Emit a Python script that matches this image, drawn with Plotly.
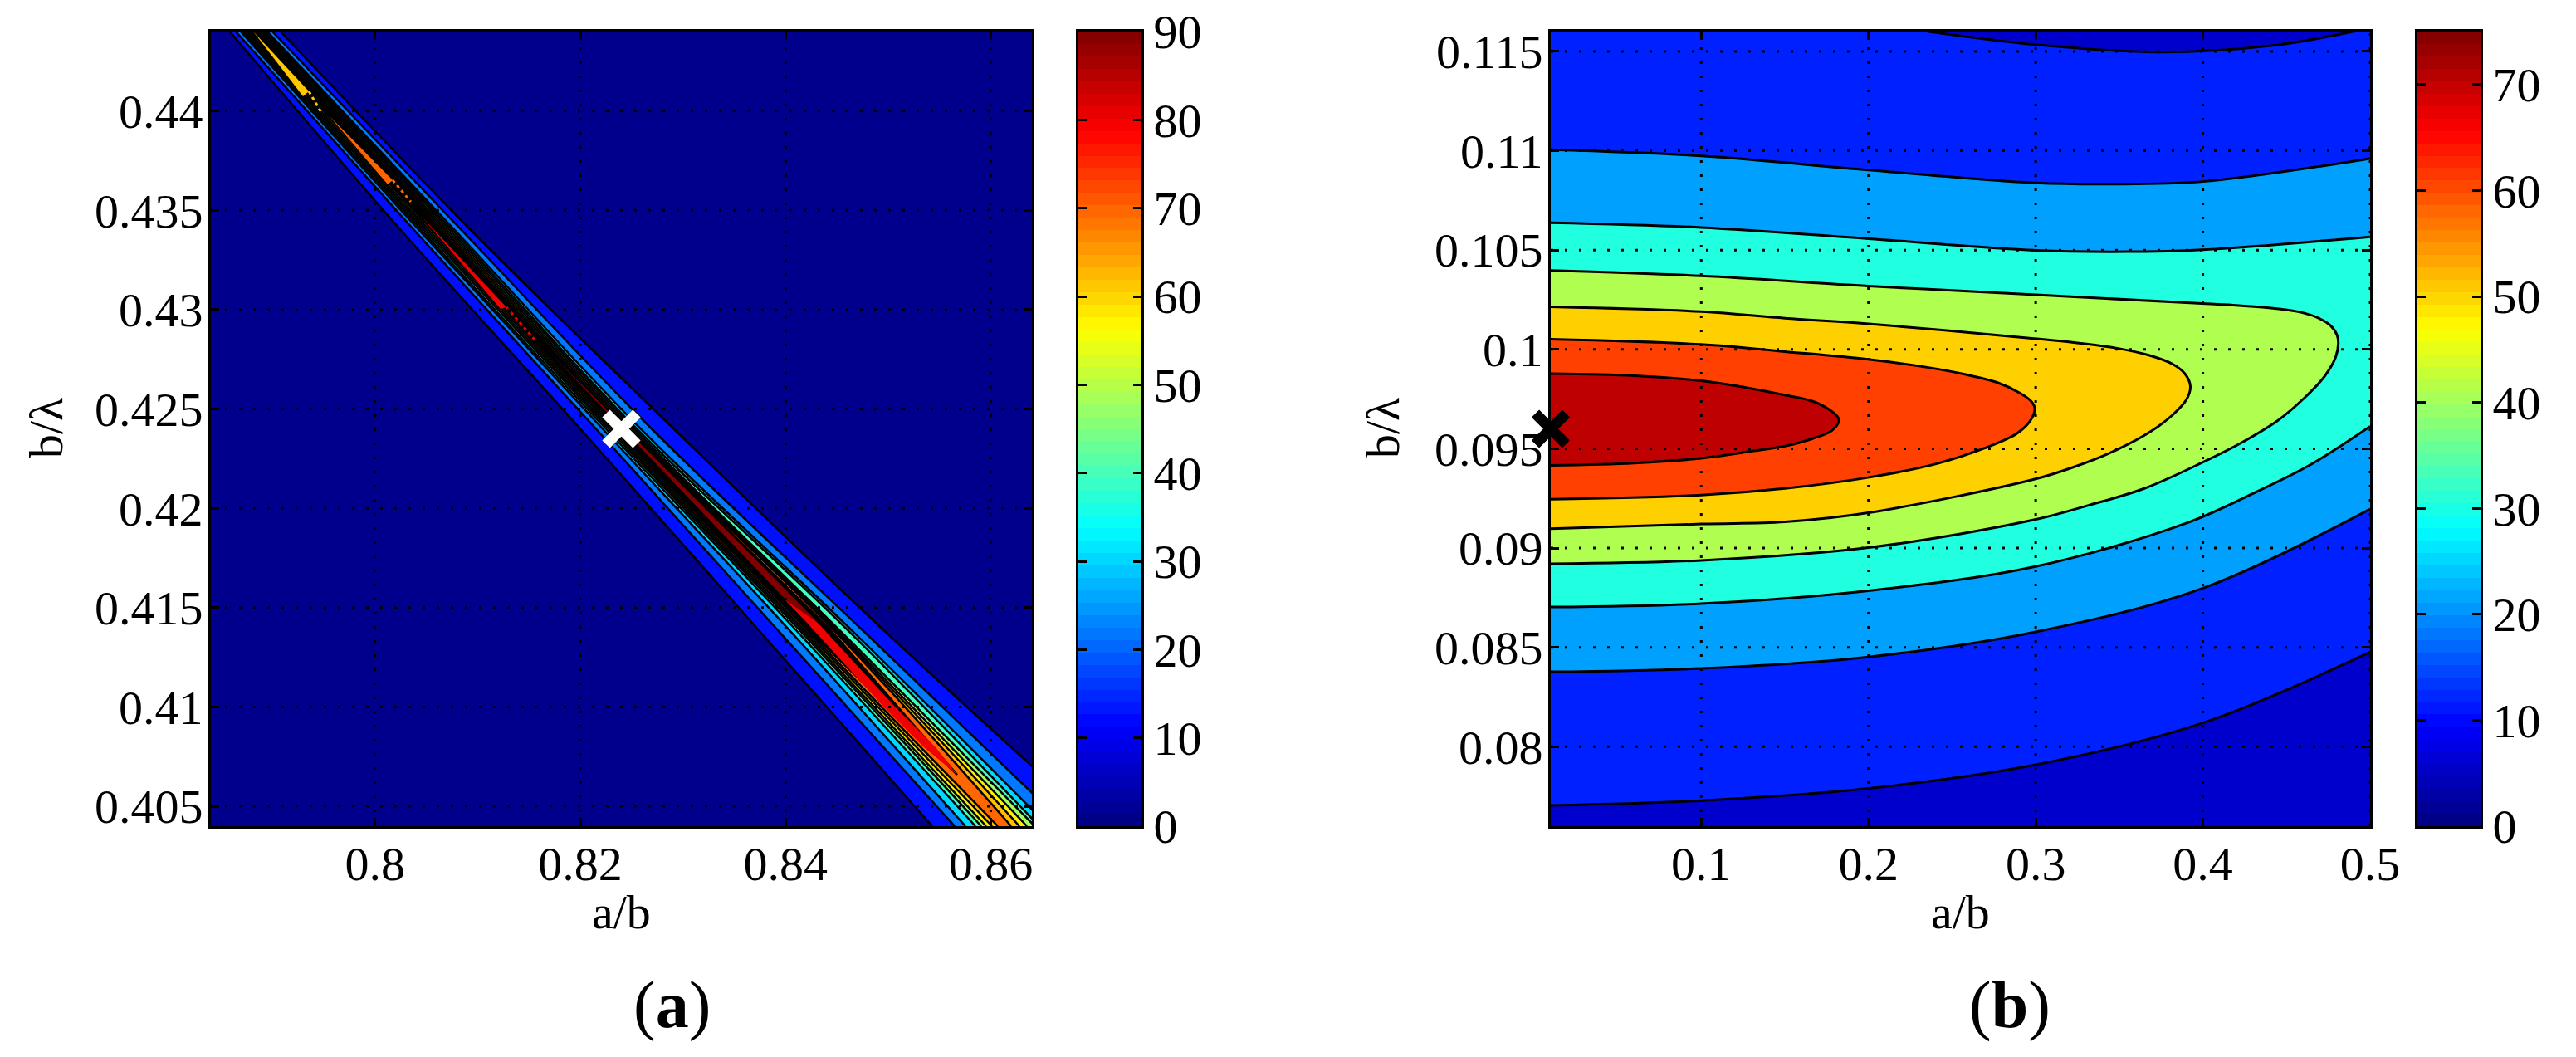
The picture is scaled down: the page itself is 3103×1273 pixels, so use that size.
import numpy as np
import plotly.graph_objects as go

FONT = "Liberation Serif"
W, H = 3103, 1273

# ---- panel (a), contour edges: x at each b/lambda row
a_rows = [0.444, 0.434, 0.424, 0.414, 0.404]
a_left = [
    [0.78584, 0.80252, 0.82000, 0.83715, 0.85429],
    [0.78643, 0.80382, 0.82153, 0.83901, 0.85648],
    [0.78691, 0.80430, 0.82218, 0.84014, 0.85753],
    [0.78711, 0.80455, 0.82250, 0.84078, 0.85850],
    [0.78732, 0.80479, 0.82275, 0.84111, 0.85907],
    [0.78752, 0.80503, 0.82299, 0.84135, 0.85955],
    [0.78772, 0.80527, 0.82323, 0.84159, 0.86012],
    [0.78792, 0.80552, 0.82347, 0.84184, 0.86068],
]
a_right = [
    [0.79079, 0.80934, 0.82911, 0.84928, 0.87047],
    [0.78999, 0.80843, 0.82695, 0.84722, 0.86740],
    [0.78950, 0.80778, 0.82588, 0.84616, 0.86562],
    [0.78930, 0.80754, 0.82550, 0.84580, 0.86473],
    [0.78910, 0.80730, 0.82525, 0.84499, 0.86429],
    [0.78889, 0.80705, 0.82501, 0.84475, 0.86352],
    [0.78869, 0.80681, 0.82477, 0.84459, 0.86279],
    [0.78853, 0.80657, 0.82453, 0.84443, 0.86198],
]
a_colors = ["#0010FF", "#0078FF", "#00D8FF", "#40FFC0", "#A0FF60", "#FFF000", "#FFC000", "#FF6800"]

# closed ridge, everything inside is solid contour lines
a_core_x = [0.78804, 0.80568, 0.82372, 0.84200, 0.85672, 0.84418, 0.82428, 0.80633, 0.78837]
a_core_y = [0.444, 0.434, 0.424, 0.414, 0.40659, 0.414, 0.424, 0.434, 0.444]

# colour slivers along the ridge
yellow_x = [0.78813, 0.79355, 0.79298]
yellow_y = [0.444, 0.44099, 0.44074]
orange_x = [0.79557, 0.80172, 0.80123]
orange_y = [0.43974, 0.43652, 0.43631]
red_x = [0.80447, 0.81280, 0.81223]
red_y = [0.43472, 0.43012, 0.43004]
darkred_x = [0.81708, 0.84232, 0.84297]
darkred_y = [0.42782, 0.41415, 0.41436]
red2_x = [0.83990, 0.84208, 0.84944, 0.85348, 0.85672, 0.85462, 0.85057, 0.84313]
red2_y = [0.41541, 0.41424, 0.41006, 0.40797, 0.40659, 0.40797, 0.41006, 0.41424]

# broken bits after each sliver
yellow_dash_x = [0.79355, 0.79480]
yellow_dash_y = [0.44099, 0.43990]
orange_dash_x = [0.80172, 0.80349]
orange_dash_y = [0.43652, 0.43543]
red_dash_x = [0.81280, 0.81563]
red_dash_y = [0.43012, 0.42845]

a_best = (0.824, 0.424)
a_xticks = [0.80, 0.82, 0.84, 0.86]
a_xlabels = ["0.8", "0.82", "0.84", "0.86"]
a_yticks = [0.405, 0.41, 0.415, 0.42, 0.425, 0.43, 0.435, 0.44]
a_ylabels = ["0.405", "0.41", "0.415", "0.42", "0.425", "0.43", "0.435", "0.44"]
a_cticks = [0, 10, 20, 30, 40, 50, 60, 70, 80, 90]

# ---- panel (b), contour lines
b_low1_x = [0.01, 0.1, 0.2, 0.3, 0.4, 0.5]
b_low1_y = [0.07705, 0.07729, 0.0779, 0.07909, 0.0812, 0.08476]
b_top1_x = [0.236, 0.3, 0.373, 0.442, 0.491]
b_top1_y = [0.116, 0.11534, 0.11497, 0.1153, 0.11602]

b_low2_x = [0.01, 0.1, 0.2, 0.3, 0.4, 0.5]
b_low2_y = [0.08377, 0.08394, 0.08452, 0.08578, 0.08798, 0.09196]
b_up2_x = [0.01, 0.1, 0.2, 0.3, 0.344, 0.4, 0.5]
b_up2_y = [0.11005, 0.10974, 0.10903, 0.10838, 0.10832, 0.10845, 0.10961]

b_low3_x = [0.01, 0.1, 0.2, 0.3, 0.39, 0.431, 0.464, 0.5]
b_low3_y = [0.08703, 0.0872, 0.08785, 0.08907, 0.09125, 0.09279, 0.09418, 0.09613]
b_up3_x = [0.01, 0.1, 0.2, 0.3, 0.354, 0.4, 0.5]
b_up3_y = [0.10638, 0.10614, 0.10557, 0.10499, 0.10492, 0.10502, 0.10567]

b_c4_x = [0.01, 0.1, 0.2, 0.299, 0.332, 0.365, 0.4, 0.423, 0.4446, 0.4612, 0.4727, 0.4794, 0.481, 0.4802, 0.4761,
          0.4678, 0.4562, 0.4396, 0.4181, 0.3949, 0.3, 0.2, 0.1, 0.01]
b_c4_y = [0.08921, 0.08938, 0.09002, 0.09142, 0.09216, 0.093, 0.09432, 0.0953, 0.09641, 0.0976, 0.09864, 0.09961,
          0.10031, 0.10073, 0.10122, 0.10163, 0.10191, 0.10209, 0.10223, 0.10233, 0.10275, 0.10319, 0.1037, 0.10397]
b_c5_x = [0.01, 0.1, 0.15, 0.2, 0.299, 0.3238, 0.3486, 0.3685, 0.3817, 0.39, 0.3925, 0.3892, 0.3817, 0.3685, 0.3486,
          0.3238, 0.299, 0.2, 0.15, 0.1, 0.01]
b_c5_y = [0.09097, 0.09121, 0.09132, 0.09178, 0.09346, 0.09411, 0.09495, 0.09585, 0.09669, 0.09745, 0.09815, 0.09878,
          0.09927, 0.09969, 0.10006, 0.10034, 0.10055, 0.10129, 0.10157, 0.1019, 0.10214]
b_c6_x = [0.01, 0.1, 0.15, 0.1997, 0.241, 0.2692, 0.289, 0.2973, 0.2995, 0.2973, 0.2907, 0.2775, 0.2576, 0.2328,
          0.1997, 0.15, 0.1, 0.01]
b_c6_y = [0.09246, 0.09267, 0.093, 0.09355, 0.09425, 0.09502, 0.09578, 0.09648, 0.09704, 0.09739, 0.0978, 0.09832,
          0.09875, 0.09913, 0.0995, 0.09989, 0.10025, 0.10051]
b_c7_x = [0.01, 0.06, 0.1, 0.13, 0.15, 0.1666, 0.1782, 0.1823, 0.1765, 0.1666, 0.15, 0.13, 0.1, 0.06, 0.01]
b_c7_y = [0.09416, 0.09428, 0.09452, 0.09487, 0.09513, 0.09551, 0.09592, 0.09648, 0.09697, 0.09739, 0.0977, 0.09803,
          0.09842, 0.09868, 0.09878]

b_best = (0.01, 0.096)
b_xticks = [0.1, 0.2, 0.3, 0.4, 0.5]
b_yticks = [0.08, 0.085, 0.09, 0.095, 0.1, 0.105, 0.11, 0.115]
b_ylabels = ["0.08", "0.085", "0.09", "0.095", "0.1", "0.105", "0.11", "0.115"]
b_cticks = [0, 10, 20, 30, 40, 50, 60, 70]


def jet_colors(n=64):
    t = (np.arange(n) + 0.5) / n
    r = np.clip(1.5 - np.abs(4 * t - 3), 0, 1)
    g = np.clip(1.5 - np.abs(4 * t - 2), 0, 1)
    b = np.clip(1.5 - np.abs(4 * t - 1), 0, 1)
    return ["rgb(%d,%d,%d)" % (255 * r[i], 255 * g[i], 255 * b[i]) for i in range(n)]


def edge(fig, x, y, ax, color=None, fill=None, lw=3):
    line = dict(color="black", width=lw, shape="spline", smoothing=1.0)
    fig.add_trace(go.Scatter(x=x, y=y, mode="lines", line=line, fill=fill, fillcolor=color,
                             xaxis="x" + ax, yaxis="y" + ax, hoverinfo="skip", showlegend=False))


def sliver(fig, x, y, color):
    fig.add_trace(go.Scatter(x=x, y=y, mode="lines", line=dict(width=0, color=color), fill="toself",
                             fillcolor=color, xaxis="x", yaxis="y", hoverinfo="skip", showlegend=False))


def broken(fig, x, y, color):
    fig.add_trace(go.Scatter(x=x, y=y, mode="lines", line=dict(width=3, color=color, dash="4px,4px"),
                             xaxis="x", yaxis="y", hoverinfo="skip", showlegend=False))


def best_mark(fig, pos, ax, color):
    fig.add_trace(go.Scatter(x=[pos[0]], y=[pos[1]], mode="markers", cliponaxis=False,
                             marker=dict(symbol="x-thin", size=37, line=dict(width=13, color=color)),
                             xaxis="x" + ax, yaxis="y" + ax, hoverinfo="skip", showlegend=False))


def colorbar(fig, top, ax):
    cols = jet_colors()
    n = len(cols)
    fig.add_trace(go.Heatmap(x=[0], y=[top * (i + 0.5) / n for i in range(n)], z=[[i] for i in range(n)],
                             zmin=0, zmax=n - 1, showscale=False,
                             colorscale=[[i / (n - 1), cols[i]] for i in range(n)],
                             xaxis="x" + ax, yaxis="y" + ax, hoverinfo="skip"))


fig = go.Figure()

# panel (a)
for lft, rgt, col in zip(a_left, a_right, a_colors):
    edge(fig, lft, a_rows, "", None, None, 2.5)
    edge(fig, rgt, a_rows, "", col, "tonexty", 2.5)
fig.add_trace(go.Scatter(x=a_core_x, y=a_core_y, mode="lines", line=dict(color="black", width=2.5), fill="toself",
                         fillcolor="black", hoverinfo="skip", showlegend=False))
sliver(fig, yellow_x, yellow_y, "#FFC800")
sliver(fig, orange_x, orange_y, "#FF6400")
sliver(fig, red_x, red_y, "#F00000")
sliver(fig, darkred_x, darkred_y, "#800000")
sliver(fig, red2_x, red2_y, "#F00000")
broken(fig, yellow_dash_x, yellow_dash_y, "#FFC800")
broken(fig, orange_dash_x, orange_dash_y, "#FF6400")
broken(fig, red_dash_x, red_dash_y, "#F00000")
best_mark(fig, a_best, "", "white")

# panel (b)
edge(fig, b_low1_x, b_low1_y, "3", "#0000CC", "tozeroy")
edge(fig, b_top1_x, b_top1_y, "3", "#0000CC", "toself")
edge(fig, b_low2_x, b_low2_y, "3")
edge(fig, b_up2_x, b_up2_y, "3", "#00A0FF", "tonexty")
edge(fig, b_low3_x, b_low3_y, "3")
edge(fig, b_up3_x, b_up3_y, "3", "#20FFDF", "tonexty")
edge(fig, b_c4_x, b_c4_y, "3", "#B0FF50", "toself")
edge(fig, b_c5_x, b_c5_y, "3", "#FFD000", "toself")
edge(fig, b_c6_x, b_c6_y, "3", "#FF4000", "toself")
edge(fig, b_c7_x, b_c7_y, "3", "#BF0000", "toself")
best_mark(fig, b_best, "3", "black")

colorbar(fig, 90, "2")
colorbar(fig, 75, "4")


def xdom(a, b):
    return [a / W, b / W]


def ydom(a, b):
    return [1 - b / H, 1 - a / H]


axis_style = dict(showgrid=False, zeroline=False, showline=True, linecolor="black", linewidth=3, mirror="ticks",
                  ticks="inside", ticklen=10, tickwidth=3, tickcolor="black",
                  tickfont=dict(family=FONT, size=58, color="black"), layer="above traces")

fig.update_layout(
    width=W, height=H, margin=dict(l=0, r=0, t=0, b=0, autoexpand=False), autosize=False,
    paper_bgcolor="white", plot_bgcolor="white", showlegend=False,
    font=dict(family=FONT, color="black"),
    xaxis=dict(axis_style, domain=xdom(254, 1243), range=[0.784, 0.864], tickvals=a_xticks, ticktext=a_xlabels,
               ticklabelstandoff=-8, anchor="y"),
    yaxis=dict(axis_style, domain=ydom(38, 995), range=[0.404, 0.444], tickvals=a_yticks, ticktext=a_ylabels,
               ticklabelstandoff=-5, anchor="x"),
    xaxis2=dict(axis_style, domain=xdom(1299, 1375), range=[-0.5, 0.5], tickvals=[], anchor="y2"),
    yaxis2=dict(axis_style, domain=ydom(38, 995), range=[0, 90], tickvals=a_cticks, side="right", anchor="x2"),
    xaxis3=dict(axis_style, domain=xdom(1868, 2855), range=[0.01, 0.5], tickvals=b_xticks,
                ticktext=["%.1f" % t for t in b_xticks], ticklabelstandoff=-8, anchor="y3"),
    yaxis3=dict(axis_style, domain=ydom(38, 995), range=[0.076, 0.116], tickvals=b_yticks, ticktext=b_ylabels,
                ticklabelstandoff=-5, anchor="x3"),
    xaxis4=dict(axis_style, domain=xdom(2912, 2988), range=[-0.5, 0.5], tickvals=[], anchor="y4"),
    yaxis4=dict(axis_style, domain=ydom(38, 995), range=[0, 75], tickvals=b_cticks, side="right", anchor="x4"),
)

# backgrounds of the two contour panels
for ax, col in (("", "#00008C"), ("3", "#0020FF")):
    fig.add_shape(type="rect", xref="x%s domain" % ax, yref="y%s domain" % ax, x0=0, x1=1, y0=0, y1=1,
                  fillcolor=col, line_width=0, layer="below")

# MATLAB style dotted grid over the filled contours
grid = dict(color="black", width=3, dash="3px,14px")
for ax, xt, yt in (("", a_xticks, a_yticks), ("3", b_xticks, b_yticks)):
    for t in xt:
        fig.add_shape(type="line", xref="x" + ax, yref="y%s domain" % ax, x0=t, x1=t, y0=0, y1=1, line=grid)
    for t in yt:
        fig.add_shape(type="line", xref="x%s domain" % ax, yref="y" + ax, x0=0, x1=1, y0=t, y1=t, line=grid)


def label(text, px, py, size=58, angle=0):
    fig.add_annotation(text=text, x=px / W, y=1 - py / H, xref="paper", yref="paper", showarrow=False,
                       xanchor="center", yanchor="middle", textangle=angle,
                       font=dict(family=FONT, size=size, color="black"))


label("a/b", 748, 1098)
label("a/b", 2361, 1098)
label("b/λ", 55, 516, angle=-90)
label("b/λ", 1665, 516, angle=-90)
label("(<b>a</b>)", 809, 1210, size=80)
label("(<b>b</b>)", 2421, 1210, size=80)

fig.write_html("out.html", config=dict(displayModeBar=False),
               post_script="document.body.style.margin='0';")
